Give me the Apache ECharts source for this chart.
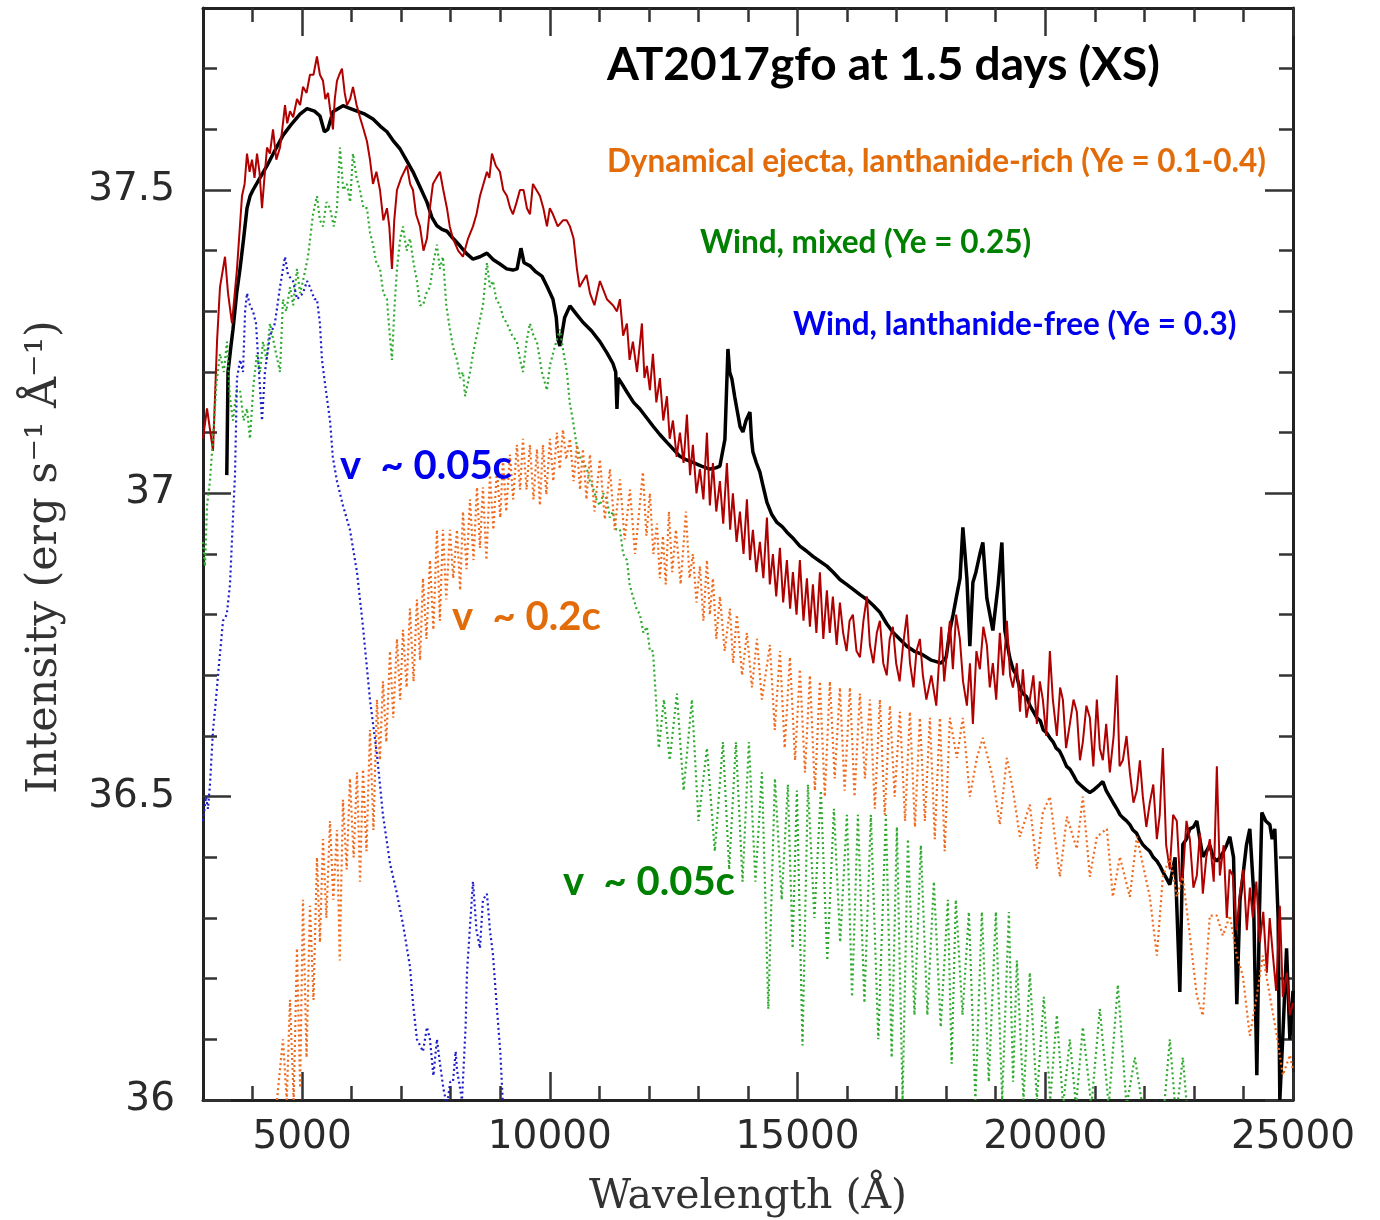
<!DOCTYPE html>
<html>
<head>
<meta charset="utf-8">
<script src="https://cdn.jsdelivr.net/npm/echarts@6/dist/echarts.min.js"></script>
<style>
html,body{margin:0;padding:0;background:#fff;}
#chart{width:1380px;height:1220px;}
</style>
</head>
<body>
<div id="chart"></div>
<script>
// ---- tick values / labels ----
const xMajorTicks = [5000, 10000, 15000, 20000, 25000];
const xTickLabels = ['5000', '10000', '15000', '20000', '25000'];
const xMinorTicks = [4000, 6000, 7000, 8000, 9000, 11000, 12000, 13000, 14000, 16000, 17000, 18000, 19000, 21000, 22000, 23000, 24000];
const yMajorTicks = [36, 36.5, 37, 37.5];
const yTickLabels = ['36', '36.5', '37', '37.5'];
const yMinorTicks = [36.1, 36.2, 36.3, 36.4, 36.6, 36.7, 36.8, 36.9, 37.1, 37.2, 37.3, 37.4, 37.6, 37.7];

// ---- series data: [wavelength (Å), log intensity] ----
const observedXS = [
[3480,37.03],[3505,37.20],[3560,37.24],[3605,37.27],[3680,37.33],[3747,37.37],[3820,37.42],[3888,37.47],[3950,37.49],[4009,37.50],
[4150,37.52],[4292,37.54],[4450,37.565],[4614,37.59],[4800,37.61],[4958,37.625],[5099,37.634],[5250,37.63],[5361,37.622],[5450,37.596],
[5520,37.60],[5623,37.629],[5825,37.639],[5950,37.635],[6108,37.630],[6270,37.625],[6431,37.617],[6580,37.605],[6713,37.596],[6850,37.58],
[6975,37.568],[7100,37.55],[7238,37.530],[7380,37.505],[7520,37.480],[7620,37.455],[7722,37.441],[7824,37.435],[7924,37.432],[8050,37.42],
[8186,37.408],[8320,37.395],[8449,37.386],[8590,37.39],[8731,37.396],[8860,37.385],[8993,37.378],[9130,37.37],[9256,37.368],[9340,37.37],
[9417,37.404],[9480,37.38],[9599,37.375],[9720,37.365],[9841,37.358],[9950,37.34],[10063,37.320],[10130,37.29],[10164,37.254],[10204,37.243],
[10300,37.29],[10406,37.309],[10540,37.295],[10668,37.282],[10840,37.268],[11011,37.250],[11150,37.232],[11274,37.214],[11330,37.20],[11355,37.139],
[11380,37.19],[11460,37.18],[11556,37.167],[11690,37.15],[11818,37.139],[11950,37.125],[12081,37.111],[12220,37.097],[12364,37.084],[12500,37.072],
[12626,37.061],[12760,37.055],[12888,37.051],[13060,37.045],[13231,37.040],[13350,37.042],[13433,37.045],[13534,37.089],[13595,37.238],[13630,37.20],
[13676,37.188],[13730,37.16],[13776,37.139],[13840,37.11],[13897,37.101],[13960,37.12],[14039,37.134],[14070,37.09],[14099,37.068],[14170,37.05],
[14240,37.035],[14310,37.01],[14382,36.985],[14480,36.965],[14584,36.952],[14690,36.945],[14785,36.936],[14920,36.925],[15047,36.913],[15180,36.905],
[15310,36.896],[15450,36.888],[15592,36.880],[15720,36.87],[15855,36.858],[15990,36.85],[16117,36.842],[16260,36.833],[16400,36.825],[16530,36.815],
[16662,36.804],[16800,36.785],[16924,36.771],[17060,36.76],[17207,36.748],[17350,36.74],[17500,36.735],[17700,36.725],[17900,36.72],[18000,36.73],
[18074,36.774],[18140,36.80],[18215,36.833],[18280,36.86],[18337,36.944],[18380,36.90],[18418,36.860],[18478,36.748],[18539,36.853],[18600,36.87],
[18680,36.90],[18740,36.919],[18821,36.827],[18942,36.774],[19050,36.85],[19124,36.919],[19184,36.774],[19285,36.728],[19350,36.71],[19420,36.70],
[19480,36.68],[19548,36.670],[19620,36.665],[19690,36.65],[19760,36.64],[19830,36.630],[19900,36.625],[19960,36.61],[20030,36.605],[20093,36.597],
[20160,36.59],[20220,36.58],[20290,36.575],[20355,36.564],[20430,36.55],[20500,36.545],[20570,36.535],[20637,36.525],[20700,36.52],[20770,36.515],
[20840,36.51],[20900,36.507],[20960,36.51],[21030,36.515],[21100,36.52],[21162,36.525],[21230,36.51],[21300,36.50],[21370,36.49],[21445,36.480],
[21510,36.47],[21570,36.465],[21640,36.46],[21707,36.454],[21770,36.445],[21840,36.44],[21900,36.43],[21969,36.421],[22040,36.415],[22110,36.41],
[22180,36.40],[22252,36.394],[22320,36.385],[22380,36.375],[22450,36.365],[22514,36.355],[22620,36.40],[22716,36.178],[22776,36.421],[22850,36.43],
[22918,36.447],[22990,36.45],[23059,36.460],[23120,36.43],[23180,36.401],[23250,36.41],[23320,36.42],[23390,36.40],[23463,36.394],[23530,36.40],
[23600,36.41],[23660,36.42],[23725,36.434],[23800,36.40],[23866,36.158],[23930,36.33],[23987,36.368],[24060,36.42],[24128,36.447],[24200,36.35],
[24270,36.041],[24320,36.30],[24371,36.474],[24450,36.46],[24532,36.454],[24580,36.43],[24633,36.447],[24700,36.30],[24734,36.0],[24795,36.106],
[24870,36.25],[24937,36.10],[25000,36.18]
];

const modelTotal = [
[3000,37.09],[3081,37.14],[3202,37.07],[3283,37.25],[3343,37.34],[3444,37.39],[3505,37.33],[3585,37.28],[3686,37.37],[3787,37.49],
[3840,37.51],[3888,37.56],[3940,37.53],[3989,37.55],[4040,37.52],[4090,37.56],[4140,37.53],[4191,37.47],[4240,37.52],[4292,37.57],
[4350,37.56],[4413,37.60],[4480,37.55],[4554,37.57],[4600,37.60],[4655,37.64],[4700,37.61],[4756,37.63],[4820,37.62],[4897,37.65],
[4960,37.64],[5018,37.67],[5090,37.66],[5159,37.69],[5230,37.69],[5300,37.72],[5360,37.69],[5422,37.68],[5470,37.65],[5523,37.66],
[5570,37.63],[5623,37.60],[5660,37.65],[5704,37.68],[5750,37.69],[5805,37.70],[5860,37.66],[5906,37.64],[5970,37.65],[6027,37.67],
[6100,37.64],[6168,37.62],[6240,37.60],[6310,37.58],[6370,37.55],[6431,37.51],[6500,37.53],[6572,37.50],[6640,37.45],[6713,37.47],
[6760,37.44],[6814,37.37],[6860,37.45],[6915,37.50],[7000,37.52],[7117,37.54],[7180,37.51],[7238,37.50],[7300,37.46],[7379,37.44],
[7450,37.40],[7520,37.42],[7580,37.47],[7641,37.51],[7710,37.52],[7783,37.53],[7850,37.50],[7924,37.47],[7980,37.44],[8045,37.42],
[8150,37.40],[8247,37.39],[8350,37.42],[8449,37.44],[8520,37.46],[8590,37.49],[8660,37.51],[8731,37.53],[8780,37.52],[8832,37.56],
[8910,37.54],[8993,37.53],[9060,37.50],[9135,37.49],[9200,37.47],[9256,37.46],[9330,37.48],[9397,37.50],[9470,37.50],[9538,37.47],
[9600,37.46],[9659,37.51],[9730,37.50],[9801,37.49],[9870,37.47],[9942,37.44],[10000,37.47],[10063,37.46],[10160,37.44],[10265,37.45],
[10340,37.45],[10406,37.44],[10480,37.42],[10547,37.37],[10600,37.34],[10668,37.35],[10740,37.36],[10810,37.33],[10900,37.31],[11011,37.35],
[11152,37.32],[11274,37.31],[11355,37.30],[11415,37.32],[11480,37.26],[11556,37.28],[11610,37.22],[11677,37.25],[11760,37.20],[11859,37.28],
[11910,37.19],[11960,37.21],[12020,37.17],[12081,37.23],[12150,37.15],[12222,37.19],[12290,37.12],[12364,37.16],[12420,37.09],[12485,37.12],
[12560,37.06],[12626,37.10],[12700,37.05],[12767,37.13],[12830,37.03],[12888,37.08],[12960,37.00],[13029,37.04],[13100,36.99],[13171,37.10],
[13230,36.98],[13292,37.05],[13360,36.97],[13433,37.02],[13500,36.95],[13574,37.05],[13640,36.94],[13695,37.00],[13770,36.92],[13837,36.97],
[13910,36.90],[13978,36.99],[14040,36.89],[14099,36.94],[14170,36.87],[14240,36.92],[14310,36.86],[14382,36.96],[14440,36.85],[14503,36.90],
[14570,36.83],[14644,36.91],[14710,36.82],[14785,36.89],[14850,36.81],[14906,36.87],[14980,36.80],[15047,36.89],[15120,36.79],[15189,36.86],
[15250,36.78],[15310,36.85],[15380,36.77],[15451,36.87],[15520,36.76],[15592,36.84],[15650,36.77],[15713,36.83],[15790,36.75],[15855,36.82],
[15920,36.77],[15990,36.74],[16050,36.79],[16117,36.80],[16190,36.74],[16260,36.73],[16330,36.79],[16400,36.83],[16460,36.75],[16530,36.72],
[16600,36.77],[16662,36.79],[16730,36.72],[16800,36.70],[16860,36.76],[16924,36.78],[16990,36.72],[17060,36.69],[17130,36.75],[17207,36.80],
[17270,36.72],[17340,36.68],[17400,36.74],[17469,36.76],[17530,36.70],[17600,36.66],[17700,36.70],[17800,36.65],[17900,36.78],[17960,36.69],
[18074,36.79],[18135,36.71],[18200,36.80],[18276,36.76],[18340,36.69],[18418,36.65],[18480,36.72],[18539,36.62],[18610,36.74],[18680,36.71],
[18750,36.78],[18821,36.75],[18880,36.68],[18942,36.72],[19010,36.66],[19083,36.77],[19150,36.70],[19225,36.79],[19290,36.70],[19346,36.68],
[19427,36.72],[19490,36.64],[19548,36.71],[19620,36.63],[19689,36.66],[19760,36.70],[19830,36.62],[19890,36.69],[19951,36.66],[20020,36.60],
[20093,36.74],[20153,36.66],[20234,36.60],[20300,36.68],[20355,36.66],[20420,36.58],[20496,36.62],[20570,36.66],[20637,36.64],[20700,36.56],
[20758,36.59],[20830,36.65],[20900,36.63],[20970,36.55],[21041,36.66],[21100,36.58],[21162,36.56],[21230,36.62],[21303,36.54],[21380,36.60],
[21445,36.70],[21500,36.55],[21566,36.56],[21640,36.60],[21707,36.54],[21780,36.49],[21848,36.51],[21910,36.56],[21969,36.50],[22040,36.45],
[22110,36.49],[22180,36.52],[22252,36.43],[22310,36.47],[22373,36.58],[22440,36.42],[22514,36.38],[22580,36.47],[22655,36.46],[22720,36.36],
[22776,36.37],[22850,36.46],[22918,36.43],[22990,36.35],[23059,36.37],[23120,36.44],[23180,36.34],[23250,36.40],[23321,36.43],[23400,36.36],
[23463,36.55],[23523,36.37],[23600,36.42],[23664,36.30],[23720,36.38],[23785,36.37],[23860,36.28],[23927,36.34],[24000,36.38],[24068,36.28],
[24130,36.35],[24189,36.30],[24260,36.36],[24330,36.26],[24400,36.31],[24472,36.21],[24530,36.30],[24593,36.24],[24660,36.18],[24734,36.32],
[24795,36.17],[24876,36.21],[24937,36.14],[25000,36.16]
];

const windMixed = [
[3000,36.92],[3040,36.88],[3081,36.98],[3140,37.02],[3202,37.09],[3270,37.18],[3343,37.23],[3420,37.20],[3484,37.25],[3540,37.16],
[3605,37.12],[3680,37.17],[3747,37.17],[3820,37.12],[3888,37.14],[3948,37.09],[4020,37.18],[4090,37.23],[4150,37.20],[4211,37.25],
[4280,37.22],[4352,37.28],[4450,37.24],[4554,37.20],[4614,37.32],[4680,37.30],[4756,37.34],[4820,37.31],[4897,37.37],[4960,37.33],
[5018,37.35],[5119,37.39],[5220,37.46],[5300,37.49],[5360,37.45],[5422,37.44],[5490,37.48],[5563,37.47],[5640,37.44],[5704,37.47],
[5765,37.57],[5830,37.50],[5906,37.51],[5970,37.48],[6027,37.56],[6100,37.52],[6168,37.50],[6240,37.47],[6310,37.47],[6370,37.43],
[6431,37.41],[6500,37.38],[6572,37.37],[6640,37.33],[6713,37.32],[6760,37.27],[6814,37.22],[6860,37.30],[6915,37.37],[6980,37.42],
[7036,37.44],[7110,37.40],[7177,37.42],[7250,37.38],[7318,37.35],[7380,37.31],[7440,37.31],[7510,37.33],[7581,37.34],[7650,37.38],
[7722,37.41],[7780,37.37],[7843,37.39],[7910,37.31],[7984,37.27],[8050,37.24],[8126,37.22],[8190,37.19],[8247,37.20],[8290,37.16],
[8327,37.16],[8390,37.20],[8449,37.23],[8550,37.27],[8650,37.31],[8731,37.38],[8790,37.34],[8852,37.35],[8920,37.32],[8993,37.31],
[9060,37.29],[9135,37.28],[9240,37.26],[9336,37.25],[9400,37.22],[9458,37.20],[9530,37.25],[9599,37.28],[9670,37.26],[9740,37.25],
[9840,37.20],[9942,37.17],[10000,37.21],[10063,37.23],[10130,37.25],[10204,37.27],[10280,37.23],[10346,37.20],[10400,37.15],[10467,37.12],
[10540,37.08],[10608,37.06],[10680,37.05],[10749,37.04],[10810,37.02],[10870,37.01],[10940,36.99],[11011,36.98],[11080,37.00],[11152,36.99],
[11210,36.96],[11274,36.97],[11340,36.94],[11415,36.94],[11480,36.90],[11556,36.89],[11610,36.85],[11677,36.83],[11750,36.81],[11818,36.80],
[11890,36.77],[11960,36.78],[12020,36.74],[12081,36.74],[12121,36.69],[12200,36.58],[12303,36.66],[12420,36.56],[12565,36.67],[12700,36.51],
[12868,36.66],[13000,36.46],[13171,36.58],[13330,36.41],[13494,36.59],[13620,36.38],[13756,36.59],[13890,36.36],[14018,36.59],[14150,36.36],
[14281,36.54],[14410,36.15],[14543,36.53],[14680,36.33],[14805,36.52],[14900,36.25],[14987,36.51],[15100,36.09],[15209,36.52],[15340,36.30],
[15471,36.51],[15600,36.23],[15734,36.48],[15860,36.26],[15996,36.47],[16100,36.17],[16218,36.47],[16350,36.16],[16480,36.47],[16630,36.10],
[16783,36.47],[16900,36.07],[17005,36.45],[17120,36.00],[17227,36.43],[17360,36.14],[17489,36.42],[17620,36.14],[17751,36.36],[17890,36.12],
[18034,36.33],[18110,36.06],[18195,36.33],[18330,36.14],[18458,36.31],[18590,36.00],[18720,36.31],[18860,36.03],[19003,36.31],[19130,36.00],
[19265,36.31],[19350,36.03],[19427,36.23],[19560,36.00],[19689,36.21],[19830,36.00],[19971,36.17],[20100,36.00],[20234,36.14],[20360,35.99],
[20496,36.10],[20620,35.99],[20758,36.12],[20930,35.99],[21101,36.15],[21280,35.99],[21465,36.19],[21640,35.99],[21808,36.07],[22000,35.97],
[22252,36.00],[22380,35.97],[22514,36.10],[22640,35.97],[22776,36.07],[22900,35.95]
];

const dynEjecta = [
[4493,36.00],[4614,36.10],[4690,36.00],[4756,36.165],[4830,36.00],[4897,36.25],[4960,36.02],[5018,36.33],[5090,36.07],[5159,36.32],
[5230,36.165],[5300,36.40],[5360,36.26],[5422,36.43],[5490,36.30],[5563,36.46],[5630,36.33],[5704,36.445],[5760,36.23],[5825,36.495],
[5900,36.38],[5966,36.53],[6040,36.40],[6108,36.54],[6170,36.36],[6229,36.545],[6300,36.41],[6370,36.61],[6440,36.445],[6511,36.66],
[6570,36.56],[6632,36.69],[6700,36.59],[6774,36.74],[6840,36.63],[6915,36.76],[6980,36.66],[7036,36.775],[7110,36.68],[7177,36.81],
[7250,36.69],[7318,36.825],[7380,36.725],[7440,36.86],[7510,36.76],[7581,36.89],[7650,36.775],[7722,36.94],[7780,36.79],[7843,36.94],
[7910,36.825],[7984,36.94],[8050,36.86],[8126,36.94],[8190,36.84],[8247,36.97],[8320,36.875],[8388,36.99],[8460,36.89],[8530,37.01],
[8590,36.91],[8650,37.01],[8720,36.89],[8792,37.03],[8860,36.94],[8933,37.04],[9000,36.96],[9054,37.056],[9120,36.97],[9195,37.064],
[9260,36.99],[9336,37.08],[9400,37.006],[9458,37.09],[9530,37.006],[9599,37.08],[9670,36.99],[9740,37.073],[9800,36.98],[9861,37.08],
[9930,36.998],[10002,37.09],[10070,37.02],[10143,37.10],[10200,37.04],[10265,37.105],[10330,37.056],[10406,37.09],[10480,37.02],[10547,37.08],
[10610,37.006],[10668,37.073],[10740,36.99],[10810,37.064],[10900,36.97],[11011,37.056],[11110,36.957],[11213,37.04],[11310,36.94],[11415,37.023],
[11510,36.924],[11617,37.006],[11720,36.90],[11879,37.035],[11950,36.93],[12020,37.00],[12090,36.90],[12162,36.95],[12220,36.86],[12283,36.93],
[12340,36.85],[12404,36.97],[12470,36.87],[12545,36.94],[12640,36.85],[12747,36.97],[12820,36.86],[12888,36.90],[12960,36.82],[13029,36.88],
[13100,36.79],[13171,36.89],[13230,36.80],[13292,36.86],[13360,36.76],[13433,36.83],[13530,36.74],[13635,36.81],[13700,36.72],[13776,36.80],
[13880,36.70],[13978,36.77],[14080,36.68],[14180,36.76],[14280,36.66],[14442,36.75],[14540,36.61],[14644,36.74],[14740,36.58],[14846,36.73],
[14950,36.56],[15047,36.71],[15150,36.54],[15249,36.70],[15350,36.51],[15451,36.69],[15550,36.50],[15653,36.69],[15750,36.53],[15855,36.68],
[15950,36.51],[16057,36.68],[16150,36.50],[16258,36.67],[16360,36.53],[16460,36.66],[16560,36.48],[16662,36.66],[16760,36.47],[16864,36.65],
[16960,36.50],[17065,36.64],[17170,36.46],[17267,36.64],[17370,36.45],[17469,36.63],[17570,36.46],[17671,36.63],[17770,36.43],[17873,36.63],
[17970,36.41],[18074,36.63],[18215,36.564],[18337,36.63],[18478,36.50],[18620,36.564],[18740,36.597],[18942,36.531],[19083,36.454],[19225,36.564],
[19346,36.512],[19487,36.434],[19689,36.487],[19830,36.381],[19951,36.474],[20093,36.50],[20295,36.368],[20436,36.467],[20637,36.414],[20758,36.50],
[20900,36.368],[21041,36.434],[21243,36.447],[21364,36.335],[21505,36.401],[21707,36.335],[21848,36.434],[22110,36.335],[22252,36.238],[22373,36.368],
[22514,36.401],[22655,36.335],[22776,36.368],[22918,36.271],[23059,36.172],[23180,36.139],[23321,36.304],[23463,36.304],[23584,36.271],[23725,36.304],
[23866,36.238],[23987,36.205],[24128,36.106],[24270,36.172],[24391,36.238],[24532,36.172],[24674,36.106],[24795,36.041],[24937,36.074],[25000,36.05]
];

const windLanFree = [
[3000,36.46],[3060,36.50],[3100,36.48],[3141,36.52],[3202,36.61],[3250,36.65],[3303,36.70],[3404,36.79],[3480,36.80],[3545,36.85],
[3605,36.96],[3646,37.03],[3686,37.19],[3750,37.22],[3807,37.20],[3850,37.30],[3888,37.33],[3948,37.31],[4010,37.30],[4070,37.28],
[4130,37.20],[4191,37.12],[4250,37.20],[4352,37.26],[4450,37.28],[4554,37.34],[4655,37.39],[4716,37.36],[4816,37.35],[4900,37.32],
[5018,37.33],[5100,37.35],[5159,37.34],[5250,37.32],[5300,37.32],[5360,37.28],[5401,37.22],[5480,37.17],[5563,37.12],[5620,37.06],
[5704,37.02],[5825,36.98],[5966,36.94],[6108,36.87],[6229,36.78],[6370,36.66],[6511,36.57],[6632,36.47],[6774,36.39],[6915,36.34],
[7036,36.29],[7177,36.22],[7238,36.16],[7318,36.10],[7440,36.08],[7520,36.12],[7581,36.10],[7650,36.04],[7722,36.10],[7783,36.06],
[7850,36.02],[7924,35.99],[7990,36.03],[8045,36.03],[8100,36.08],[8126,36.05],[8227,36.00],[8300,36.12],[8328,36.21],[8400,36.30],
[8449,36.36],[8520,36.28],[8590,36.25],[8650,36.33],[8731,36.34],[8792,36.28],[8852,36.24],[8933,36.15],[9000,36.08],[9054,35.99]
];

// ---- chart ----
const chart = echarts.init(document.getElementById('chart'), null, {renderer: 'canvas'});

const frameColor = '#222';
const tickStyle = {color: '#333', width: 2.5};
const tickFont = {fontFamily: 'DejaVu Sans', fontSize: 39, color: '#2a2a2a'};

function xAx(pos, vals, len, showLine, showLabel) {
  return {
    type: 'value', gridIndex: 0, position: pos, min: 3000, max: 25000,
    axisLine: {show: showLine, onZero: false, lineStyle: {color: frameColor, width: 3}},
    axisTick: {show: true, inside: true, length: len, customValues: vals, lineStyle: tickStyle},
    axisLabel: {show: showLabel, customValues: vals, margin: 18,
      formatter: v => { const i = xMajorTicks.indexOf(v); return i >= 0 ? xTickLabels[i] : ''; },
      ...tickFont},
    splitLine: {show: false}, minorTick: {show: false}
  };
}
function yAx(pos, vals, len, showLine, showLabel) {
  return {
    type: 'value', gridIndex: 0, position: pos, min: 36, max: 37.8,
    axisLine: {show: showLine, onZero: false, lineStyle: {color: frameColor, width: 3}},
    axisTick: {show: true, inside: true, length: len, customValues: vals, lineStyle: tickStyle},
    axisLabel: {show: showLabel, customValues: vals, margin: 28,
      formatter: v => { const i = yMajorTicks.indexOf(v); return i >= 0 ? yTickLabels[i] : ''; },
      ...tickFont},
    splitLine: {show: false}, minorTick: {show: false}
  };
}

function lineSeries(name, data, color, width, type, z) {
  return {
    name, type: 'line', data, xAxisIndex: 0, yAxisIndex: 0,
    showSymbol: false, symbol: 'none', smooth: false, clip: true, z,
    lineStyle: {color, width, type},
    emphasis: {disabled: true}
  };
}

const labelFont = 'Lato';
const option = {
  animation: false,
  backgroundColor: '#ffffff',
  grid: {left: 203, right: 87, top: 8, bottom: 120, containLabel: false},
  xAxis: [
    xAx('bottom', xMajorTicks, 28, true, true),
    xAx('bottom', xMinorTicks, 14, false, false),
    xAx('top', xMajorTicks, 28, true, false),
    xAx('top', xMinorTicks, 14, false, false)
  ],
  yAxis: [
    yAx('left', yMajorTicks, 28, true, true),
    yAx('left', yMinorTicks, 14, false, false),
    yAx('right', yMajorTicks, 28, true, false),
    yAx('right', yMinorTicks, 14, false, false)
  ],
  series: [
    lineSeries('AT2017gfo XS', observedXS, '#000000', 3.5, 'solid', 3),
    lineSeries('Model total', modelTotal, '#b00000', 2, 'solid', 4),
    lineSeries('Wind, mixed', windMixed, '#2eaa2e', 2.2, [2, 3], 5),
    lineSeries('Dynamical ejecta', dynEjecta, '#f06a1e', 2.2, [2, 3], 6),
    lineSeries('Wind, lanthanide-free', windLanFree, '#1c1cc8', 2.2, [2, 3], 7)
  ],
  graphic: [
    {type: 'text', x: 45, y: 557, rotation: Math.PI / 2, z: 100,
      style: {text: 'Intensity (erg s⁻¹ Å⁻¹)', fontFamily: 'DejaVu Serif', fontSize: 43, fill: '#333', align: 'center', verticalAlign: 'middle'}},
    {type: 'text', x: 748, y: 1197, z: 100,
      style: {text: 'Wavelength (Å)', fontFamily: 'DejaVu Serif', fontSize: 41, fill: '#333', align: 'center', verticalAlign: 'middle'}},
    {type: 'text', x: 607, y: 65, z: 100,
      style: {text: 'AT2017gfo at 1.5 days (XS)', fontFamily: labelFont, fontWeight: 'bold', fontSize: 46, fill: '#000', align: 'left', verticalAlign: 'middle'}},
    {type: 'text', x: 607, y: 162, z: 100,
      style: {text: 'Dynamical ejecta, lanthanide-rich (Ye = 0.1-0.4)', fontFamily: labelFont, fontWeight: 'bold', fontSize: 31.5, fill: '#e36c0a', align: 'left', verticalAlign: 'middle'}},
    {type: 'text', x: 700, y: 243, z: 100,
      style: {text: 'Wind, mixed (Ye = 0.25)', fontFamily: labelFont, fontWeight: 'bold', fontSize: 31.5, fill: '#008000', align: 'left', verticalAlign: 'middle'}},
    {type: 'text', x: 793, y: 325, z: 100,
      style: {text: 'Wind, lanthanide-free (Ye = 0.3)', fontFamily: labelFont, fontWeight: 'bold', fontSize: 31.5, fill: '#0000ee', align: 'left', verticalAlign: 'middle'}},
    {type: 'text', x: 340, y: 466, z: 100,
      style: {text: 'v  ~ 0.05c', fontFamily: labelFont, fontWeight: 'bold', fontSize: 40, fill: '#0000ee', align: 'left', verticalAlign: 'middle'}},
    {type: 'text', x: 452, y: 617, z: 100,
      style: {text: 'v  ~ 0.2c', fontFamily: labelFont, fontWeight: 'bold', fontSize: 40, fill: '#e36c0a', align: 'left', verticalAlign: 'middle'}},
    {type: 'text', x: 563, y: 882, z: 100,
      style: {text: 'v  ~ 0.05c', fontFamily: labelFont, fontWeight: 'bold', fontSize: 40, fill: '#008000', align: 'left', verticalAlign: 'middle'}}
  ]
};
chart.setOption(option);
</script>
</body>
</html>
